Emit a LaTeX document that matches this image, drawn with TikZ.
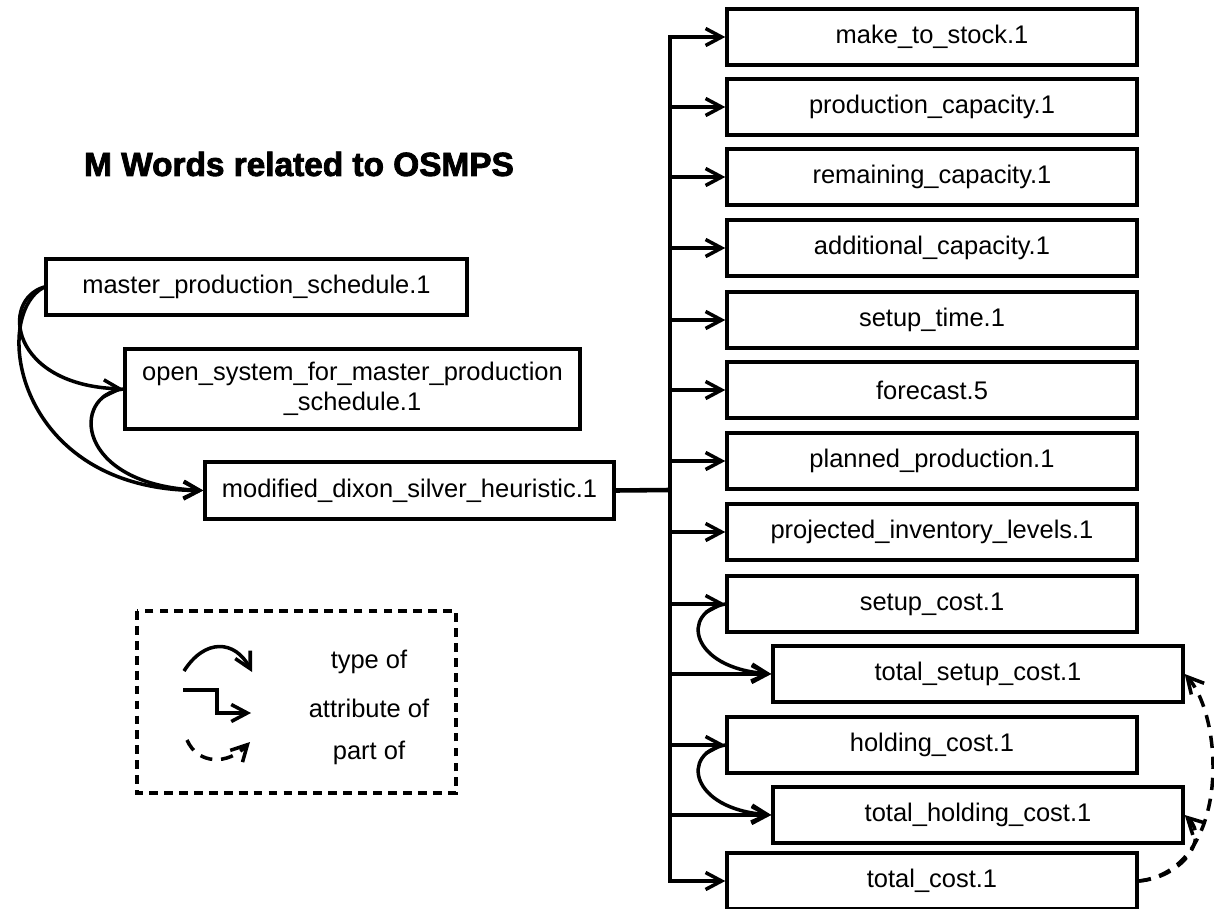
\documentclass[tikz,border=0pt]{standalone}
\usepackage{fontspec}
\setmainfont{Liberation Sans}
\newfontfamily\titlefont[FakeBold=2.5]{Liberation Sans Bold}
\usetikzlibrary{arrows.meta, positioning}

\tikzset{
    term/.style={draw, line width=2pt, minimum width=8.2cm, minimum height=1.12cm,
        inner sep=0pt, font=\fontsize{14.5}{17}\selectfont},
    attr/.style={line width=2pt, -{Straight Barb[length=3.2mm,width=3.4mm]}},
    typeof/.style={attr},
    partof/.style={attr, dash pattern=on 7pt off 5pt},
}

\begin{document}
\begin{tikzpicture}[x=0.02cm, y=-0.02cm]
\useasboundingbox (0,0) rectangle (1214,909);

\def \busx {670}
\def \shift {46} % indent of the "total" boxes

\node[font=\titlefont\fontsize{19}{22}\selectfont] (title) at (299,164) {M Words related to OSMPS};

\node[term, minimum width=8.42cm] (mps) at (256.5,287) {master\_production\_schedule.1};
\node[term, minimum width=9.1cm, minimum height=1.6cm, align=center] (osmps) at (352.5,389)
    {open\_system\_for\_master\_production\\\_schedule.1};
\node[term, minimum width=8.18cm, minimum height=1.14cm] (mdsh) at (409.5,490.5)
    {modified\_dixon\_silver\_heuristic.1};

\foreach \i/\dx/\y/\txt in {
    1/0/37/make\_to\_stock.1,
    2/0/107/production\_capacity.1,
    3/0/177/remaining\_capacity.1,
    4/0/248/additional\_capacity.1,
    5/0/320/setup\_time.1,
    6/0/390/forecast.5,
    7/0/461/planned\_production.1,
    8/0/532/projected\_inventory\_levels.1,
    9/0/604/setup\_cost.1,
    10/\shift/674/total\_setup\_cost.1,
    11/0/745/holding\_cost.1,
    12/\shift/815/total\_holding\_cost.1,
    13/0/881/total\_cost.1}
{
    \node[term] (w\i) at (932+\dx,\y) {\txt};
}

% attribute of
\coordinate (hub) at (\busx,490);
\draw[line width=2.6pt] (mdsh.east) -- (hub);
\foreach \i in {1,...,13}
    \draw[attr] (hub) |- (w\i.west);

% type of
\draw[typeof] (mps.west) .. controls (0,300) and (10,385) .. (osmps.west);
\draw[typeof] (mps.west) .. controls (-10,315) and (15,490) .. (mdsh.west);
\draw[typeof] (osmps.west) .. controls (70,395) and (75,485) .. (mdsh.west);
\draw[typeof] (w9.west) .. controls (680,612) and (690,668) .. (w10.west);
\draw[typeof] (w11.west) .. controls (680,753) and (690,809) .. (w12.west);

% part of
\draw[partof] (w13.east) .. controls (1230,870) and (1225,720) .. (w10.east);
\draw[partof] (w13.east) .. controls (1180,878) and (1210,840) .. (w12.east);

% legend
\draw[line width=2pt, dash pattern=on 5pt off 3.5pt] (137,611) rectangle (456,793);
\node[font=\fontsize{14.5}{17}\selectfont] (ltype) at (369,662) {type of};
\node[font=\fontsize{14.5}{17}\selectfont] (lattr) at (369,708) {attribute of};
\node[font=\fontsize{14.5}{17}\selectfont] (lpart) at (369,753) {part of};
\draw[typeof] (184,671) .. controls (205,638) and (235,640) .. (252,672);
\draw[attr] (183,690) -- (217,690) -- (217,713) -- (251,713);
\draw[partof] (187,740) .. controls (198,765) and (228,765) .. (250,742);
\end{tikzpicture}
\end{document}
